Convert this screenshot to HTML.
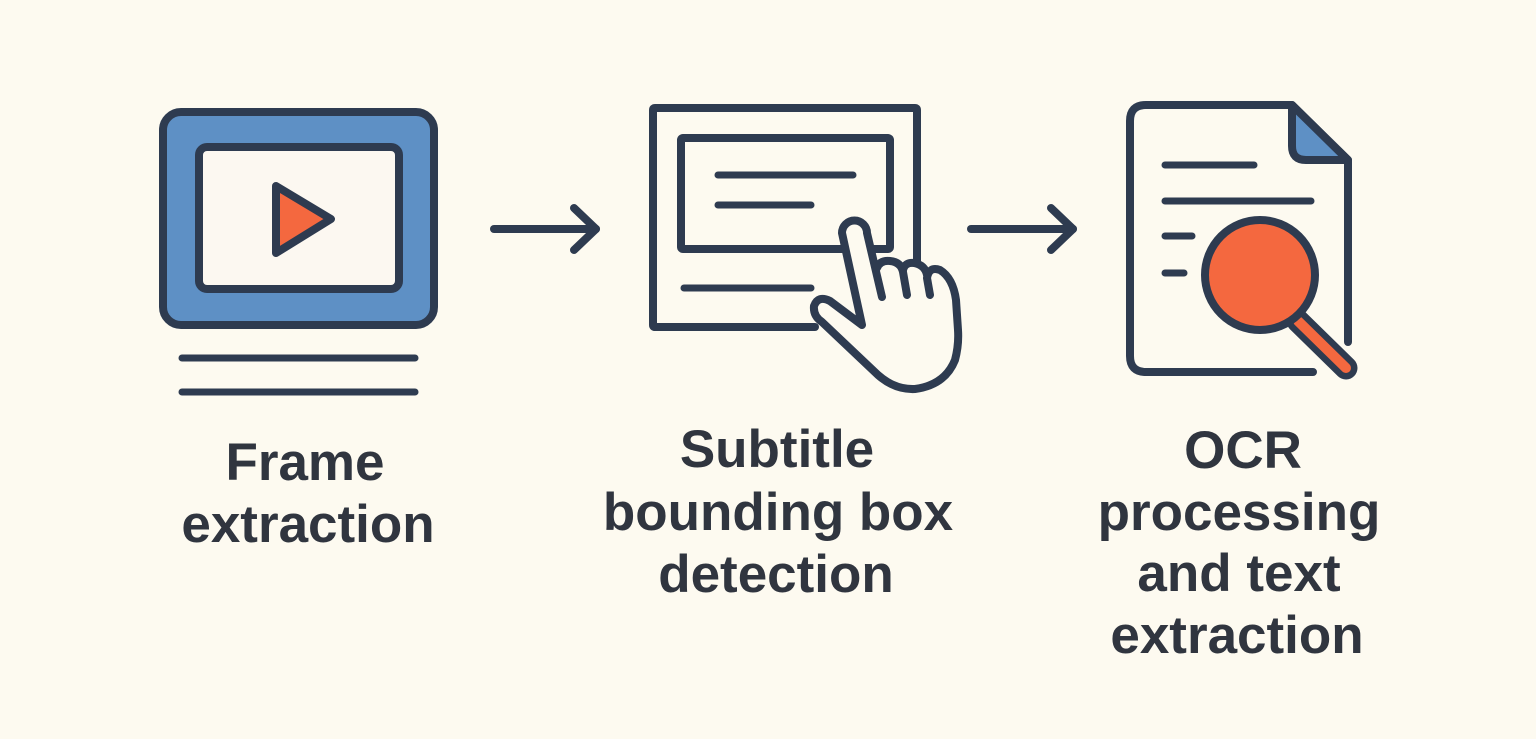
<!DOCTYPE html>
<html>
<head>
<meta charset="utf-8">
<style>
html,body{margin:0;padding:0;background:#fdfaf0;}
svg{display:block;}
text{font-family:"Liberation Sans",Arial,sans-serif;font-weight:bold;fill:#30353f;}
</style>
</head>
<body>
<svg width="1536" height="739" viewBox="0 0 1536 739" xmlns="http://www.w3.org/2000/svg">
<rect width="1536" height="739" fill="#fdfaf0"/>
<g stroke="#2e3b50" stroke-linecap="round" stroke-linejoin="round" fill="none">
  <!-- Icon 1: frame -->
  <rect x="163" y="112" width="271" height="213" rx="18" fill="#5e90c5" stroke-width="8"/>
  <rect x="199" y="147" width="200" height="142" rx="8" fill="#fcf8f1" stroke-width="8"/>
  <path d="M276 186 L331 219 L276 253 Z" fill="#f4683f" stroke-width="8"/>
  <line x1="182" y1="358" x2="415" y2="358" stroke-width="7"/>
  <line x1="182" y1="392" x2="415" y2="392" stroke-width="7"/>

  <!-- Arrow 1 -->
  <line x1="494" y1="229" x2="596" y2="229" stroke-width="8"/>
  <path d="M574 208 L596 229 L574 250" stroke-width="8"/>

  <!-- Icon 2: bounding box with hand -->
  <path d="M917 265 L917 110 Q917 108 915 108 L655 108 Q653 108 653 110 L653 325 Q653 327 655 327 L815 327" stroke-width="8"/>
  <rect x="681" y="138" width="209" height="111" rx="2" stroke-width="8"/>
  <line x1="718" y1="175" x2="853" y2="175" stroke-width="7"/>
  <line x1="718" y1="205" x2="811" y2="205" stroke-width="7"/>
  <line x1="684" y1="288" x2="811" y2="288" stroke-width="7"/>
  <!-- hand fill -->
  <path d="M842 233 A12.5 12.5 0 0 1 867 233 L877 268 Q880 260 890 261 Q901 262 903 270 Q905 262 914 263 Q925 265 927 275 Q930 266 940 270 Q953 278 956 300 L958 330 Q959 345 955 360 Q945 385 915 389 Q895 390 878 375 L822 322 Q813 316 814 306 Q818 295 830 301 L862 325 Z" fill="#fdfaf0" stroke="none"/>
  <!-- hand strokes -->
  <path d="M882 297 L867 233 A12.5 12.5 0 0 0 842 233 L862 325 L830 301 Q818 295 814 306 Q813 316 822 322 L878 375 Q895 390 915 389 Q945 385 955 360 Q959 345 958 330 L956 300 Q953 278 940 270 Q929 266 927 278 L930 295" stroke-width="8"/>
  <path d="M877 268 Q880 260 890 261 Q901 262 903 272 L907 295" stroke-width="8"/>
  <path d="M903 270 Q905 262 914 263 Q925 265 927 275" stroke-width="8"/>

  <!-- Arrow 2 -->
  <line x1="971" y1="229" x2="1073" y2="229" stroke-width="8"/>
  <path d="M1051 208 L1073 229 L1051 250" stroke-width="8"/>

  <!-- Icon 3: document with magnifier -->
  <path d="M1313 372 L1146 372 Q1130 372 1130 356 L1130 121 Q1130 105 1146 105 L1292 105 L1348 160 L1348 342" stroke-width="8"/>
  <path d="M1292 105 L1292 146 Q1292 160 1306 160 L1348 160 Z" fill="#5e90c5" stroke-width="8"/>
  <line x1="1165" y1="165" x2="1254" y2="165" stroke-width="7"/>
  <line x1="1165" y1="201" x2="1311" y2="201" stroke-width="7"/>
  <line x1="1165" y1="236" x2="1192" y2="236" stroke-width="7"/>
  <line x1="1165" y1="273" x2="1184" y2="273" stroke-width="7"/>
  <line x1="1298" y1="321" x2="1346" y2="368" stroke-width="23"/>
  <line x1="1298" y1="321" x2="1346" y2="368" stroke="#f4683f" stroke-width="10"/>
  <circle cx="1260" cy="275" r="55" fill="#f4683f" stroke-width="8"/>
</g>

<!-- Labels -->
<g text-anchor="middle" font-size="53">
  <text x="305" y="480">Frame</text>
  <text x="308" y="542">extraction</text>

  <text x="777" y="467">Subtitle</text>
  <text x="778" y="530">bounding box</text>
  <text x="776" y="592">detection</text>

  <text x="1243" y="468">OCR</text>
  <text x="1239" y="530">processing</text>
  <text x="1239" y="591">and text</text>
  <text x="1237" y="653">extraction</text>
</g>
</svg>
</body>
</html>
